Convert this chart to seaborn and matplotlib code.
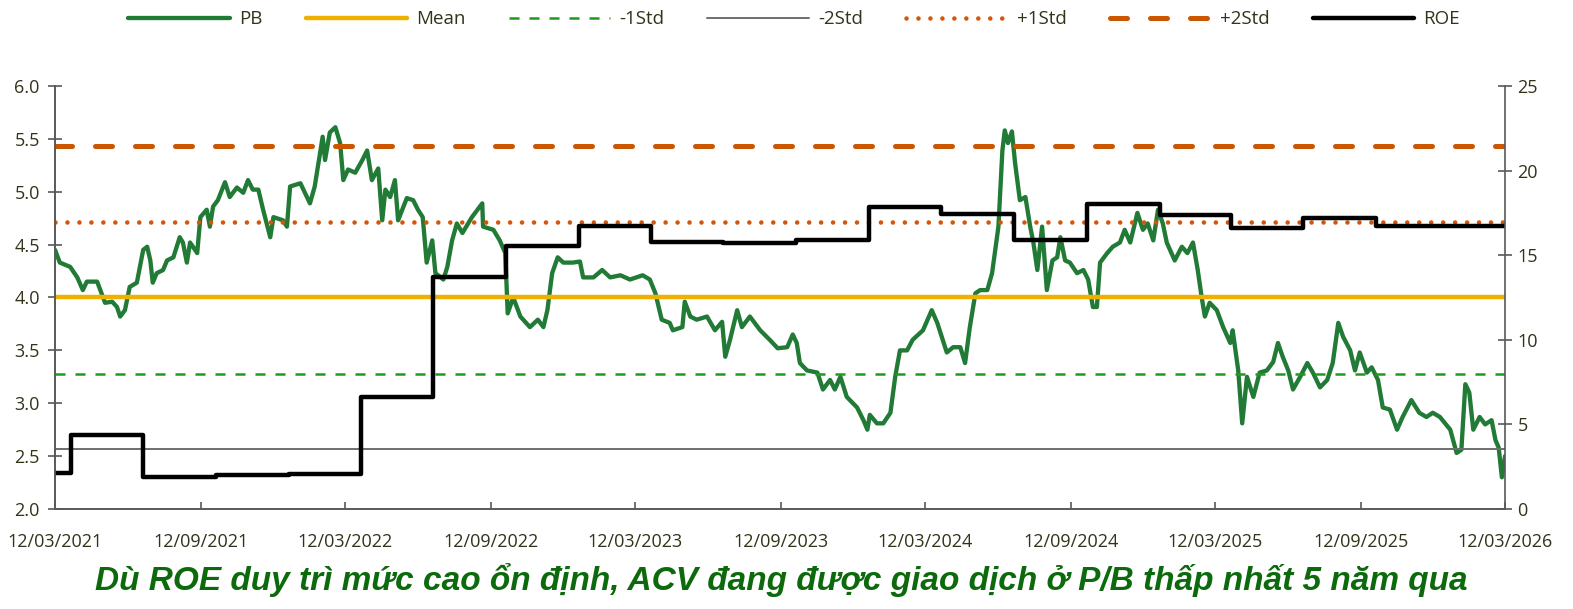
import matplotlib
matplotlib.use("Agg")
import matplotlib.pyplot as plt
import pandas as pd
import seaborn as sns
from matplotlib.ticker import FormatStrFormatter, MultipleLocator

# P/B series (date, value)
pb_dates = [
    # 2021
    "2021-03-12", "2021-03-18", "2021-03-31", "2021-04-09", "2021-04-16", "2021-04-21",
    "2021-05-04", "2021-05-08", "2021-05-14", "2021-05-23", "2021-05-29", "2021-06-02",
    "2021-06-08", "2021-06-14", "2021-06-23", "2021-07-01", "2021-07-06", "2021-07-10",
    "2021-07-13", "2021-07-18", "2021-07-26", "2021-07-31", "2021-08-08", "2021-08-16",
    "2021-08-20", "2021-08-25", "2021-08-29", "2021-09-07", "2021-09-11", "2021-09-19",
    "2021-09-23", "2021-09-27", "2021-10-03", "2021-10-12", "2021-10-18", "2021-10-27",
    "2021-11-04", "2021-11-10", "2021-11-16", "2021-11-23", "2021-11-29", "2021-12-08",
    "2021-12-12", "2021-12-24", "2021-12-29",
    # 2022
    "2022-01-02", "2022-01-15", "2022-01-27", "2022-02-02", "2022-02-12", "2022-02-15",
    "2022-02-21", "2022-02-28", "2022-03-06", "2022-03-10", "2022-03-16", "2022-03-25",
    "2022-04-03", "2022-04-09", "2022-04-15", "2022-04-23", "2022-04-28", "2022-05-02",
    "2022-05-08", "2022-05-14", "2022-05-18", "2022-05-29", "2022-06-06", "2022-06-12",
    "2022-06-18", "2022-06-23", "2022-06-30", "2022-07-04", "2022-07-14", "2022-07-19",
    "2022-07-25", "2022-07-31", "2022-08-07", "2022-08-19", "2022-09-01", "2022-09-02",
    "2022-09-15", "2022-09-23", "2022-09-30", "2022-10-03", "2022-10-10", "2022-10-19",
    "2022-10-31", "2022-11-10", "2022-11-17", "2022-11-22", "2022-11-28", "2022-12-05",
    "2022-12-12", "2022-12-24",
    # 2023
    "2023-01-02", "2023-01-06", "2023-01-19", "2023-01-30", "2023-02-09", "2023-02-22",
    "2023-03-06", "2023-03-22", "2023-03-31", "2023-04-07", "2023-04-15", "2023-04-25",
    "2023-04-29", "2023-05-11", "2023-05-14", "2023-05-21", "2023-05-29", "2023-06-11",
    "2023-06-21", "2023-06-30", "2023-07-04", "2023-07-10", "2023-07-19", "2023-07-25",
    "2023-08-04", "2023-08-17", "2023-08-29", "2023-09-08", "2023-09-20", "2023-09-27",
    "2023-10-02", "2023-10-06", "2023-10-15", "2023-10-28", "2023-11-04", "2023-11-13",
    "2023-11-19", "2023-11-26", "2023-12-04", "2023-12-17", "2023-12-25", "2023-12-30",
    # 2024
    "2024-01-02", "2024-01-11", "2024-01-19", "2024-01-28", "2024-02-03", "2024-02-09",
    "2024-02-18", "2024-02-25", "2024-03-09", "2024-03-20", "2024-03-27", "2024-03-30",
    "2024-04-08", "2024-04-16", "2024-04-25", "2024-05-01", "2024-05-07", "2024-05-14",
    "2024-05-20", "2024-05-29", "2024-06-04", "2024-06-12", "2024-06-17", "2024-06-20",
    "2024-06-24", "2024-06-29", "2024-07-03", "2024-07-09", "2024-07-16", "2024-07-22",
    "2024-07-26", "2024-07-31", "2024-08-06", "2024-08-12", "2024-08-19", "2024-08-25",
    "2024-08-29", "2024-09-04", "2024-09-10", "2024-09-19", "2024-09-27", "2024-10-03",
    "2024-10-09", "2024-10-14", "2024-10-18", "2024-10-27", "2024-11-03", "2024-11-12",
    "2024-11-18", "2024-11-25", "2024-12-04", "2024-12-11", "2024-12-17", "2024-12-24",
    "2024-12-30",
    # 2025
    "2025-01-05", "2025-01-10", "2025-01-20", "2025-01-29", "2025-02-05", "2025-02-12",
    "2025-02-18", "2025-02-23", "2025-02-27", "2025-03-05", "2025-03-14", "2025-03-22",
    "2025-03-31", "2025-04-03", "2025-04-10", "2025-04-15", "2025-04-21", "2025-04-29",
    "2025-05-07", "2025-05-16", "2025-05-24", "2025-05-30", "2025-06-05", "2025-06-12",
    "2025-06-18", "2025-06-27", "2025-07-06", "2025-07-13", "2025-07-22", "2025-07-31",
    "2025-08-07", "2025-08-14", "2025-08-20", "2025-08-29", "2025-09-04", "2025-09-10",
    "2025-09-19", "2025-09-25", "2025-10-03", "2025-10-09", "2025-10-18", "2025-10-27",
    "2025-11-03", "2025-11-14", "2025-11-24", "2025-12-03", "2025-12-11", "2025-12-20",
    # 2026
    "2026-01-02", "2026-01-10", "2026-01-16", "2026-01-21", "2026-01-26", "2026-01-31",
    "2026-02-08", "2026-02-15", "2026-02-23", "2026-02-28", "2026-03-04", "2026-03-08",
    "2026-03-12",
]
pb_values = [
    # 2021
    4.45, 4.33, 4.29, 4.19, 4.07, 4.15,
    4.15, 4.07, 3.95, 3.96, 3.91, 3.82,
    3.88, 4.10, 4.14, 4.45, 4.48, 4.35,
    4.14, 4.23, 4.26, 4.35, 4.38, 4.57,
    4.52, 4.33, 4.52, 4.42, 4.76, 4.83,
    4.67, 4.86, 4.92, 5.09, 4.95, 5.04,
    4.99, 5.11, 5.02, 5.02, 4.83, 4.57,
    4.76, 4.73, 4.67,
    # 2022
    5.05, 5.08, 4.89, 5.05, 5.52, 5.30,
    5.56, 5.61, 5.46, 5.11, 5.21, 5.18,
    5.30, 5.39, 5.11, 5.22, 4.73, 5.02,
    4.95, 5.11, 4.73, 4.94, 4.92, 4.83,
    4.76, 4.33, 4.54, 4.23, 4.17, 4.29,
    4.54, 4.70, 4.61, 4.76, 4.89, 4.67,
    4.64, 4.54, 4.42, 3.85, 4.00, 3.82,
    3.72, 3.79, 3.72, 3.88, 4.23, 4.38,
    4.33, 4.33,
    # 2023
    4.34, 4.19, 4.19, 4.26, 4.19, 4.21,
    4.17, 4.21, 4.17, 4.04, 3.79, 3.76,
    3.69, 3.72, 3.96, 3.82, 3.79, 3.82,
    3.69, 3.77, 3.44, 3.60, 3.88, 3.72,
    3.82, 3.69, 3.60, 3.52, 3.53, 3.65,
    3.57, 3.38, 3.31, 3.29, 3.13, 3.22,
    3.13, 3.25, 3.06, 2.96, 2.84, 2.75,
    # 2024
    2.89, 2.81, 2.81, 2.91, 3.25, 3.50,
    3.50, 3.60, 3.69, 3.88, 3.76, 3.69,
    3.48, 3.53, 3.53, 3.38, 3.72, 4.04,
    4.07, 4.07, 4.23, 4.67, 5.39, 5.58,
    5.46, 5.57, 5.27, 4.92, 4.95, 4.67,
    4.52, 4.26, 4.67, 4.07, 4.35, 4.38,
    4.57, 4.35, 4.33, 4.23, 4.26, 4.17,
    3.91, 3.91, 4.33, 4.42, 4.48, 4.52,
    4.64, 4.52, 4.80, 4.64, 4.70, 4.54,
    4.83,
    # 2025
    4.70, 4.52, 4.35, 4.48, 4.42, 4.52,
    4.26, 4.00, 3.82, 3.95, 3.88, 3.72,
    3.57, 3.69, 3.31, 2.81, 3.25, 3.06,
    3.29, 3.31, 3.39, 3.57, 3.44, 3.31,
    3.13, 3.25, 3.38, 3.29, 3.15, 3.22,
    3.38, 3.76, 3.63, 3.50, 3.31, 3.48,
    3.29, 3.34, 3.22, 2.96, 2.94, 2.75,
    2.87, 3.03, 2.91, 2.87, 2.91, 2.87,
    # 2026
    2.75, 2.53, 2.56, 3.18, 3.10, 2.75,
    2.87, 2.80, 2.84, 2.65, 2.58, 2.30,
    2.50,
]

# quarterly ROE (%), right axis
roe_dates = [
    "2021-03-12", "2021-04-01", "2021-07-01", "2021-10-01", "2022-01-01", "2022-04-01",
    "2022-07-01", "2022-10-01", "2023-01-01", "2023-04-01", "2023-07-01", "2023-10-01",
    "2024-01-01", "2024-04-01", "2024-07-01", "2024-10-01", "2025-01-01", "2025-04-01",
    "2025-07-01", "2025-10-01", "2026-03-12",
]
roe_values = [
    2.1, 4.4, 1.9, 2.0, 2.05, 6.6,
    13.7, 15.55, 16.7, 15.8, 15.7, 15.9,
    17.85, 17.45, 15.9, 18.0, 17.4, 16.6,
    17.2, 16.75, 16.75,
]

# band levels of P/B
band_labels = ["Mean", "-1Std", "-2Std", "+1Std", "+2Std"]
band_values = [4.00, 3.28, 2.565, 4.71, 5.43]

xtick_labels = ["12/03/2021", "12/09/2021", "12/03/2022", "12/09/2022", "12/03/2023",
                "12/09/2023", "12/03/2024", "12/09/2024", "12/03/2025", "12/09/2025",
                "12/03/2026"]

caption = "Dù ROE duy trì mức cao ổn định, ACV đang được giao dịch ở P/B thấp nhất 5 năm qua"

# styles
band_styles = {
    "Mean": dict(color="#f0b000", lw=3.2, ls="-"),
    "-1Std": dict(color="#1e9a1e", lw=1.8, ls=(0, (4.0, 4.0))),
    "-2Std": dict(color="#6e6e6e", lw=1.4, ls="-"),
    "+1Std": dict(color="#d4560a", lw=3.3, ls=(0, (0.01, 2.6)), dash_capstyle="round"),
    "+2Std": dict(color="#cc5500", lw=3.6, ls=(0, (3.4, 4.6)), dash_capstyle="round"),
}
tick_color = "#33331a"
spine_color = "#595959"

sns.set_style("ticks")
plt.rcParams["font.family"] = ["Open Sans", "DejaVu Sans"]

fig = plt.figure(figsize=(15.73, 6.09), dpi=100)
ax = fig.add_axes([0.035, 0.1642, 0.9218, 0.6946])

pb = pd.DataFrame({"date": pd.to_datetime(pb_dates), "PB": pb_values})
sns.lineplot(data=pb, x="date", y="PB", ax=ax, color="#217a35", lw=3.1,
             label="PB", legend=False)

band_lines = []
for name, val in zip(band_labels, band_values):
    band_lines.append(ax.axhline(val, label=name, **band_styles[name]))

ax.set_ylim(2.0, 6.0)
ax.yaxis.set_major_locator(MultipleLocator(0.5))
ax.yaxis.set_major_formatter(FormatStrFormatter("%.1f"))

x_start = pd.to_datetime(xtick_labels[0], format="%d/%m/%Y")
x_end = pd.to_datetime(xtick_labels[-1], format="%d/%m/%Y")
ax.set_xlim(x_start, x_end)
ax.set_xticks(pd.to_datetime(xtick_labels, format="%d/%m/%Y"))
ax.set_xticklabels(xtick_labels)
ax.set_xlabel("")
ax.set_ylabel("")

# ROE on the right axis
ax2 = ax.twinx()
roe = pd.DataFrame({"date": pd.to_datetime(roe_dates), "ROE": roe_values})
sns.lineplot(data=roe, x="date", y="ROE", ax=ax2, color="black", lw=3.2,
             drawstyle="steps-post", label="ROE", legend=False)
ax2.set_ylim(0, 25)
ax2.yaxis.set_major_locator(MultipleLocator(5))
ax2.set_ylabel("")
ax2.set_xlim(x_start, x_end)

for a in (ax, ax2):
    a.spines["top"].set_visible(False)
    for s in ("left", "right", "bottom"):
        a.spines[s].set_color(spine_color)
        a.spines[s].set_linewidth(1.2)
ax.spines["right"].set_visible(False)

ax.tick_params(axis="y", direction="inout", length=10, width=1.2, color=spine_color,
               labelsize=13, labelcolor=tick_color, pad=6)
ax.tick_params(axis="x", direction="in", length=5, width=1.2, color=spine_color,
               labelsize=13, labelcolor=tick_color, pad=17)
ax2.tick_params(axis="y", direction="inout", length=10, width=1.2, color=spine_color,
                labelsize=13, labelcolor=tick_color, pad=4)

handles = [ax.get_lines()[0]] + band_lines + [ax2.get_lines()[0]]
fig.legend(handles=handles, labels=[h.get_label() for h in handles],
           loc="center", bbox_to_anchor=(0.505, 0.968), ncol=7, frameon=False,
           fontsize=13.5, handlelength=5.4, handletextpad=0.5, columnspacing=2.3,
           labelcolor=tick_color)

fig.text(0.497, 0.048, caption, ha="center", va="center", fontsize=24,
         fontweight="bold", fontstyle="italic", color="#0c6a0c",
         family=["Liberation Sans", "DejaVu Sans"])

fig.savefig("out.png", dpi=100)
plt.close(fig)
